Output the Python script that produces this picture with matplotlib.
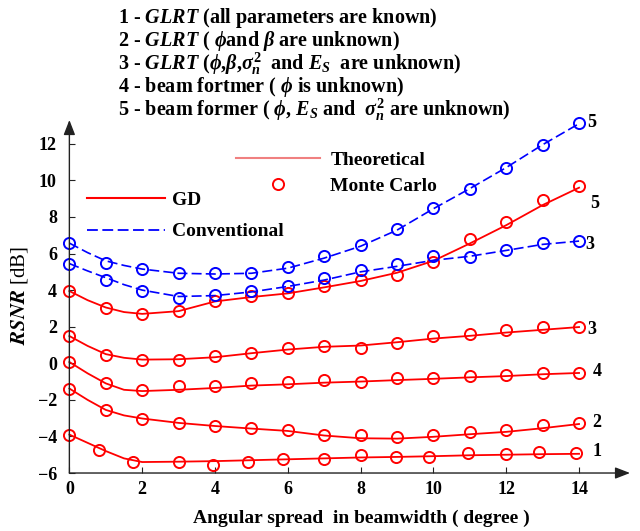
import matplotlib
matplotlib.use('Agg')
import matplotlib.pyplot as plt
from matplotlib.lines import Line2D

plt.rcParams['font.family'] = 'Liberation Serif'
plt.rcParams['font.weight'] = 'bold'
plt.rcParams['mathtext.fontset'] = 'custom'
plt.rcParams['mathtext.rm'] = 'Liberation Serif:bold'
plt.rcParams['mathtext.it'] = 'Liberation Serif:italic:bold'
plt.rcParams['mathtext.bf'] = 'Liberation Serif:bold'

# theoretical curves (angular spread in beamwidth, degrees)
theory_x = [0, 0.5, 1, 1.5, 2, 3, 4, 5, 6, 7, 8, 9, 10, 11, 12, 13, 14]
gd1 = [-3.9, -4.35, -4.8, -5.2, -5.4, -5.38, -5.35, -5.3, -5.25, -5.2, -5.15, -5.12, -5.08, -5.03, -5.0, -4.97, -4.95]
gd2 = [-1.38, -2.0, -2.55, -2.85, -3.02, -3.26, -3.43, -3.57, -3.7, -3.95, -4.1, -4.12, -4.02, -3.88, -3.75, -3.55, -3.32]
gd3 = [1.49, 0.95, 0.5, 0.3, 0.2, 0.22, 0.33, 0.55, 0.75, 0.9, 0.97, 1.15, 1.35, 1.5, 1.68, 1.83, 1.98]
gd4 = [0.07, -0.55, -1.1, -1.45, -1.52, -1.45, -1.35, -1.22, -1.15, -1.06, -1.0, -0.92, -0.85, -0.77, -0.7, -0.6, -0.53]
gd5 = [3.95, 3.45, 3.05, 2.8, 2.7, 2.85, 3.38, 3.62, 3.82, 4.15, 4.5, 4.95, 5.6, 6.55, 7.55, 8.65, 9.6]
conv3 = [5.45, 5.05, 4.68, 4.3, 4.0, 3.65, 3.7, 3.9, 4.2, 4.55, 5.0, 5.3, 5.63, 5.85, 6.17, 6.5, 6.68]
conv5 = [6.57, 6.05, 5.6, 5.35, 5.15, 4.92, 4.88, 4.92, 5.2, 5.75, 6.4, 7.28, 8.45, 9.55, 10.7, 11.95, 13.1]

# Monte Carlo results
mc_x = list(range(15))
mc1_x = [0, 0.82, 1.76, 3, 3.94, 4.92, 5.88, 6.99, 8, 8.97, 9.89, 10.96, 12, 12.9, 13.92]
mc1 = [-3.90, -4.75, -5.39, -5.39, -5.54, -5.39, -5.26, -5.26, -5.0, -5.12, -5.12, -4.90, -4.97, -4.85, -4.93]
mc2 = [-1.38, -2.53, -3.02, -3.26, -3.43, -3.52, -3.66, -3.93, -3.93, -4.03, -3.90, -3.75, -3.64, -3.35, -3.26]
mc3 = [1.49, 0.47, 0.20, 0.20, 0.38, 0.58, 0.84, 0.97, 0.86, 1.11, 1.48, 1.62, 1.84, 1.98, 1.98]
mc4 = [0.07, -1.06, -1.44, -1.26, -1.26, -1.06, -1.02, -0.93, -1.02, -0.78, -0.80, -0.69, -0.66, -0.53, -0.53]
mc5 = [3.95, 3.04, 2.68, 2.86, 3.40, 3.66, 3.84, 4.21, 4.57, 4.81, 5.54, 6.81, 7.72, 8.95, 9.69]
conv_mc3 = [5.45, 4.57, 3.95, 3.57, 3.72, 3.95, 4.21, 4.68, 5.12, 5.45, 5.85, 5.81, 6.17, 6.57, 6.68]
conv_mc5 = [6.57, 5.48, 5.17, 4.96, 4.96, 4.96, 5.28, 5.85, 6.45, 7.32, 8.49, 9.55, 10.69, 11.95, 13.13]

header = [
    r'1 - $GLRT$ (all parameters are known)',
    r'2 - $GLRT$ ( $\phi$and $\beta$ are unknown)',
    r'3 - $GLRT$ ($\phi$,$\beta$,$\sigma_n^2$  and $E_S$  are unknown)',
    r'4 - beam fortmer ( $\phi$ is unknown)',
    r'5 - beam former ( $\phi$, $E_S$ and  $\sigma_n^2$ are unknown)',
]

RED = '#ff0000'
BLUE = '#0000ff'

fig = plt.figure(figsize=(6.4, 5.31), dpi=100)
ax = fig.add_axes([0.1084, 0.1092, 0.876, 0.6648])

gd_curves = [(gd1, mc1_x, mc1, '1', (21, 2)),
             (gd2, mc_x, mc2, '2', (18, 0)),
             (gd3, mc_x, mc3, '3', (13, -2)),
             (gd4, mc_x, mc4, '4', (18, 1)),
             (gd5, mc_x, mc5, '5', (16, -17))]
for th, mx, my, tag, off in gd_curves:
    ax.plot(theory_x, th, color=RED, lw=1.3, clip_on=False)
    ax.plot(mx, my, 'o', mfc='none', mec=RED, mew=1.4, ms=8, clip_on=False)
    ax.annotate(tag, xy=(mx[-1], my[-1]), xytext=off, textcoords='offset pixels',
                ha='center', va='center', fontsize=13, fontweight='bold')

conv_curves = [(conv3, conv_mc3, '3', (11, -3)),
               (conv5, conv_mc5, '5', (13, 1))]
for th, my, tag, off in conv_curves:
    ax.plot(theory_x, th, color=BLUE, lw=1.2, dashes=(6, 2.5), clip_on=False)
    ax.plot(mc_x, my, 'o', mfc='none', mec=BLUE, mew=1.4, ms=8, clip_on=False)
    ax.annotate(tag, xy=(mc_x[-1], my[-1]), xytext=off, textcoords='offset pixels',
                ha='center', va='center', fontsize=13, fontweight='bold')

ax.set_xlim(0, 15.4)
ax.set_ylim(-6, 13.3)
for s in ax.spines.values():
    s.set_visible(False)

# axes drawn as arrows
arrow = dict(arrowstyle='-|>,head_length=0.9,head_width=0.35', color='#222222', lw=1.0,
             shrinkA=0, shrinkB=0)
ax.annotate('', xy=(1, 0), xytext=(0, 0), xycoords='axes fraction', arrowprops=arrow)
ax.annotate('', xy=(0, 1), xytext=(0, 0), xycoords='axes fraction', arrowprops=arrow)

ax.set_xticks(range(0, 15, 2))
ax.set_yticks(range(-6, 13, 2))
ax.tick_params(direction='in', length=4, width=0.8, color='#222222', labelsize=13)
ax.tick_params(axis='y', pad=9)
ax.tick_params(axis='x', pad=6)

fig.text(361 / 640, 1 - 518 / 531, 'Angular spread  in beamwidth ( degree )',
         ha='center', va='center', fontsize=14, fontweight='bold')
fig.text(20 / 640, 1 - 295 / 531, r'$RSNR$ [dB]', rotation=90, ha='center', va='center',
         fontsize=15, fontweight='normal', math_fontfamily='stix')

for i, line in enumerate(header):
    fig.text(118 / 640, 1 - (18.3 + 23 * i) / 531, line, ha='left', va='center',
             fontsize=14.5, fontweight='bold')

# legends
leg1 = ax.legend([Line2D([], [], color='#f08080', lw=1.5),
                  Line2D([], [], ls='none', marker='o', mfc='none', mec=RED, mew=1.4, ms=8)],
                 ['Theoretical', 'Monte Carlo'], loc='upper left',
                 bbox_to_anchor=(0.28, 0.94), frameon=False, fontsize=14,
                 handlelength=4.3, handletextpad=0.55, labelspacing=0.45, borderpad=0)
ax.add_artist(leg1)
ax.legend([Line2D([], [], color=RED, lw=1.5),
           Line2D([], [], color=BLUE, lw=1.3, dashes=(6, 2.5))],
          ['GD', 'Conventional'], loc='upper left',
          bbox_to_anchor=(0.014, 0.825), frameon=False, fontsize=14,
          handlelength=4.0, handletextpad=0.35, labelspacing=0.7, borderpad=0)

fig.savefig('out.png', dpi=100)
